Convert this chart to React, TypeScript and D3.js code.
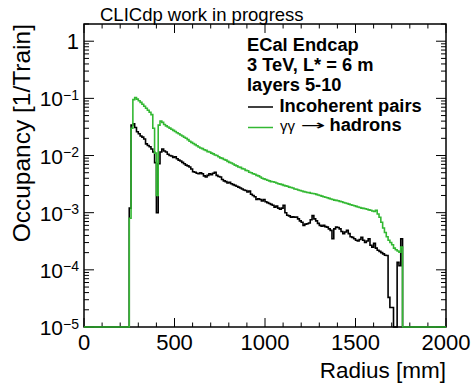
import React from "react";
import * as d3 from "d3";

// Histogram binning (mm)
const BIN_LOW = 250;
const BIN_WIDTH = 10;

// Incoherent pairs occupancy per bin, bins 250..1760 mm
const incoherentPairs = [
  1.2e-3, 3.4e-2, 3.6e-2, 3.1e-2, 2.6e-2,
  2.4e-2, 2.2e-2, 2.1e-2, 1.95e-2, 1.6e-2, 1.5e-2, 1.42e-2, 1.3e-2, 1.15e-2, 7.5e-3,
  1.0e-3, 7.2e-3, 1.15e-2, 1.3e-2, 1.2e-2, 1.15e-2, 1.05e-2, 1.0e-2, 9.8e-3, 9.3e-3,
  9.5e-3, 8.8e-3, 8.3e-3, 8.0e-3, 7.6e-3, 7.2e-3, 6.8e-3, 6.6e-3, 6.3e-3, 5.8e-3,
  5.2e-3, 5.1e-3, 4.9e-3, 4.8e-3, 5.0e-3, 4.8e-3, 4.4e-3, 4.2e-3, 4.5e-3, 4.8e-3,
  4.6e-3, 4.9e-3, 5.1e-3, 4.5e-3, 4.3e-3, 4.2e-3, 3.8e-3, 3.6e-3, 3.5e-3, 3.3e-3,
  3.4e-3, 3.2e-3, 3.1e-3, 3.0e-3, 2.9e-3, 2.8e-3, 2.7e-3, 2.6e-3, 2.5e-3, 2.45e-3,
  2.3e-3, 2.4e-3, 2.1e-3, 2.0e-3, 1.9e-3, 1.7e-3, 1.75e-3, 1.7e-3, 1.6e-3, 1.7e-3,
  1.55e-3, 1.5e-3, 1.45e-3, 1.4e-3, 1.35e-3, 1.25e-3, 1.3e-3, 1.2e-3, 1.15e-3, 1.2e-3,
  1.35e-3, 1.0e-3, 9.0e-4, 8.8e-4, 8.3e-4, 8.5e-4, 8.3e-4, 8.4e-4, 7.8e-4, 7.2e-4,
  6.8e-4, 6.0e-4, 6.3e-4, 6.4e-4, 6.6e-4, 7.5e-4, 8.9e-4, 7.8e-4, 7.2e-4, 6.5e-4,
  6.0e-4, 5.8e-4, 6.0e-4, 5.7e-4, 5.6e-4, 5.2e-4, 4.9e-4, 3.5e-4, 5.2e-4, 5.6e-4,
  5.5e-4, 5.2e-4, 4.7e-4, 4.3e-4, 4.6e-4, 4.9e-4, 4.3e-4, 3.8e-4, 3.7e-4, 3.5e-4,
  3.3e-4, 3.2e-4, 3.4e-4, 3.7e-4, 3.3e-4, 3.0e-4, 3.2e-4, 3.5e-4, 2.7e-4, 2.5e-4,
  2.9e-4, 2.4e-4, 2.2e-4, 2.1e-4, 2.0e-4, 1.9e-4, 1.8e-4, 1.78e-4, 3.3e-5, 2.2e-5,
  2.2e-5, 0, 0, 1.35e-4, 1.18e-4, 3.5e-4,
];

// gamma gamma -> hadrons occupancy per bin, bins 250..1760 mm
const gammaGammaHadrons = [
  8e-4, 3.0e-2, 9.5e-2, 1.03e-1, 9.7e-2,
  9.1e-2, 8.5e-2, 7.9e-2, 7.3e-2, 6.7e-2, 6.2e-2, 5.7e-2, 5.2e-2, 3.0e-2, 1.1e-2,
  2.0e-3, 3.4e-2, 4.0e-2, 3.8e-2, 3.5e-2, 3.3e-2, 3.16e-2, 3.02e-2, 2.88e-2, 2.75e-2,
  2.63e-2, 2.51e-2, 2.4e-2, 2.29e-2, 2.19e-2, 2.09e-2, 2.0e-2, 1.9e-2, 1.78e-2, 1.7e-2,
  1.62e-2, 1.55e-2, 1.48e-2, 1.41e-2, 1.35e-2, 1.32e-2, 1.26e-2, 1.23e-2, 1.17e-2, 1.15e-2,
  1.1e-2, 1.07e-2, 1.02e-2, 1.0e-2, 9.5e-3, 9.1e-3, 8.9e-3, 8.5e-3, 8.3e-3, 7.9e-3,
  7.6e-3, 7.4e-3, 7.1e-3, 6.8e-3, 6.6e-3, 6.3e-3, 6.2e-3, 5.9e-3, 5.8e-3, 5.5e-3,
  5.4e-3, 5.1e-3, 5.0e-3, 4.8e-3, 4.7e-3, 4.5e-3, 4.4e-3, 4.2e-3, 4.0e-3, 3.9e-3,
  3.8e-3, 3.7e-3, 3.6e-3, 3.5e-3, 3.47e-3, 3.4e-3, 3.3e-3, 3.2e-3, 3.16e-3, 3.1e-3,
  3.0e-3, 2.95e-3, 2.9e-3, 2.8e-3, 2.75e-3, 2.7e-3, 2.6e-3, 2.57e-3, 2.5e-3, 2.45e-3,
  2.4e-3, 2.34e-3, 2.3e-3, 2.26e-3, 2.24e-3, 2.19e-3, 2.16e-3, 2.14e-3, 2.09e-3, 2.04e-3,
  2.0e-3, 1.95e-3, 1.9e-3, 1.86e-3, 1.82e-3, 1.78e-3, 1.74e-3, 1.7e-3, 1.66e-3, 1.64e-3,
  1.62e-3, 1.58e-3, 1.55e-3, 1.51e-3, 1.48e-3, 1.45e-3, 1.41e-3, 1.38e-3, 1.35e-3, 1.32e-3,
  1.29e-3, 1.26e-3, 1.23e-3, 1.2e-3, 1.19e-3, 1.17e-3, 1.15e-3, 1.12e-3, 1.1e-3, 1.07e-3,
  1.05e-3, 1.1e-3, 9.5e-4, 8.3e-4, 6.8e-4, 5.4e-4, 4.5e-4, 3.8e-4, 3.3e-4, 3.0e-4,
  2.75e-4, 2.4e-4, 2.24e-4, 2.14e-4, 2.04e-4, 2.5e-4,
];

const xTickValues = [0, 500, 1000, 1500, 2000];
const xTickLabels = ["0", "500", "1000", "1500", "2000"];
const yTickExponents = [0, -1, -2, -3, -4, -5];
const legendHeader = ["ECal Endcap", "3 TeV, L* = 6 m", "layers 5-10"];
const seriesNames = ["Incoherent pairs", "hadrons"];

const FONT = "'Liberation Sans', Arial, Helvetica, sans-serif";
const GREEN = "#33b833";

export default function App() {
  const W = 473, H = 388;
  const L = 84, R = 446, T = 24, B = 327;
  const x = d3.scaleLinear().domain([0, 2000]).range([L, R]);
  const y = d3.scaleLog().domain([1e-5, 2]).range([B, T]);

  const histPath = (vals: number[]) => {
    const pts: [number, number][] = [];
    pts.push([x(0), B]);
    pts.push([x(BIN_LOW), B]);
    vals.forEach((v, i) => {
      const x0 = BIN_LOW + i * BIN_WIDTH;
      const yy = v > 1e-5 ? y(v) : B;
      pts.push([x(x0), yy]);
      pts.push([x(x0 + BIN_WIDTH), yy]);
    });
    const end = BIN_LOW + vals.length * BIN_WIDTH;
    pts.push([x(end), B]);
    pts.push([x(2000), B]);
    return d3.line()(pts) || "";
  };

  const xMinor = d3.range(0, 2001, 100);
  const yMinor: number[] = [];
  for (let e = -5; e <= 0; e++) {
    for (let k = 2; k <= 9; k++) {
      const v = k * Math.pow(10, e);
      if (v <= 2) yMinor.push(v);
    }
  }

  return (
    <svg width={W} height={H} style={{ position: "absolute", left: 0, top: 0, background: "#fff" }} fontFamily={FONT}>
      <rect x={0} y={0} width={W} height={H} fill="#fff" />
      {/* title */}
      <text x={100} y={21} fontSize={18.5} fill="#000">CLICdp work in progress</text>

      {/* ticks */}
      <g stroke="#000" strokeWidth={1}>
        {xMinor.map((v) => {
          const major = v % 500 === 0;
          const len = major ? 9 : 4.5;
          return (
            <g key={"xt" + v}>
              <line x1={x(v)} x2={x(v)} y1={B} y2={B - len} />
              <line x1={x(v)} x2={x(v)} y1={T} y2={T + len} />
            </g>
          );
        })}
        {yTickExponents.map((e) => {
          const v = Math.pow(10, e);
          return (
            <g key={"yt" + e}>
              <line x1={L} x2={L + 10} y1={y(v)} y2={y(v)} />
              <line x1={R} x2={R - 10} y1={y(v)} y2={y(v)} />
            </g>
          );
        })}
        {yMinor.map((v, i) => (
          <g key={"ym" + i}>
            <line x1={L} x2={L + 5} y1={y(v)} y2={y(v)} />
            <line x1={R} x2={R - 5} y1={y(v)} y2={y(v)} />
          </g>
        ))}
      </g>

      {/* frame */}
      <rect x={L} y={T} width={R - L} height={B - T} fill="none" stroke="#000" strokeWidth={1.5} />

      {/* histograms */}
      <path d={histPath(incoherentPairs)} fill="none" stroke="#000" strokeWidth={1.6} />
      <path d={histPath(gammaGammaHadrons)} fill="none" stroke={GREEN} strokeWidth={1.6} />

      {/* x tick labels */}
      {xTickValues.map((v, i) => (
        <text key={"xl" + v} x={x(v)} y={350} fontSize={22} textAnchor="middle" fill="#000">
          {xTickLabels[i]}
        </text>
      ))}
      {/* y tick labels */}
      {yTickExponents.map((e) => {
        const yy = y(Math.pow(10, e));
        if (e === 0) {
          return (
            <text key={"yl" + e} x={79} y={yy + 8} fontSize={22} textAnchor="end" fill="#000">1</text>
          );
        }
        return (
          <text key={"yl" + e} x={79} y={yy + 8} fontSize={21} textAnchor="end" fill="#000">
            <tspan>10</tspan>
            <tspan fontSize={14} dy={-6.5}>{"\u2212" + Math.abs(e)}</tspan>
          </text>
        );
      })}

      {/* axis titles */}
      <text x={R} y={378} fontSize={22.5} textAnchor="end" fill="#000">Radius [mm]</text>
      <text transform={`translate(30,${T}) rotate(-90)`} fontSize={24.5} textAnchor="end" fill="#000">
        Occupancy [1/Train]
      </text>

      {/* legend */}
      <g fontSize={18.3} fontWeight="bold" fill="#000">
        {legendHeader.map((s, i) => (
          <text key={"lh" + i} x={247} y={51 + i * 20}>{s}</text>
        ))}
        <line x1={248} x2={273} y1={107} y2={107} stroke="#000" strokeWidth={1.5} />
        <text x={279.5} y={111.5}>{seriesNames[0]}</text>
        <line x1={248} x2={273} y1={127.5} y2={127.5} stroke={GREEN} strokeWidth={1.5} />
        <text x={280} y={131} fontWeight="normal" fontSize={15}>{"\u03B3\u03B3"}</text>
        <text x={300.5} y={130} fontWeight="normal" fontFamily="'DejaVu Sans', sans-serif" fontSize={14}
          textLength={25} lengthAdjust="spacingAndGlyphs">{"\u2192"}</text>
        <text x={329.5} y={131}>{seriesNames[1]}</text>
      </g>
    </svg>
  );
}
